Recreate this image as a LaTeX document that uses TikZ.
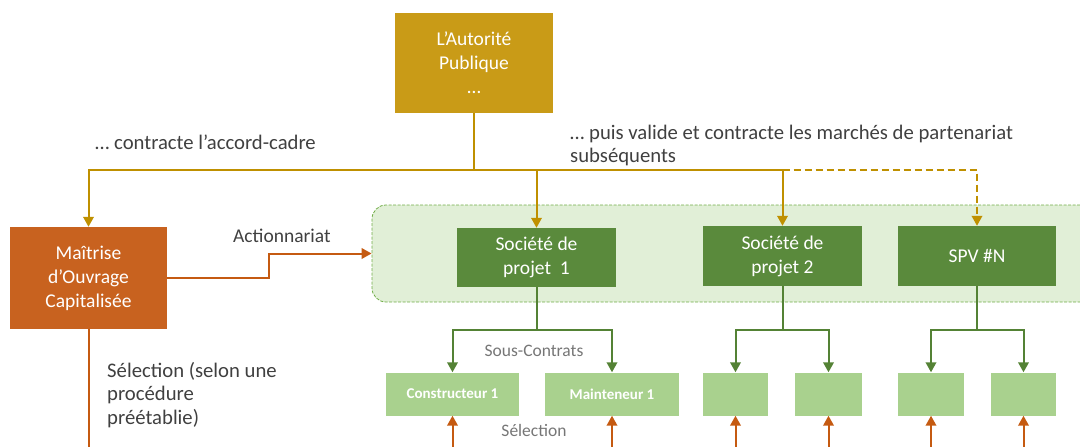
\documentclass[tikz,border=0pt]{standalone}
\usepackage{fontspec}
\setmainfont{Carlito}
\usetikzlibrary{arrows.meta}

\definecolor{authfill}{HTML}{C99B17}
\definecolor{goldline}{HTML}{BF9000}
\definecolor{mocfill}{HTML}{C8621F}
\definecolor{orangeline}{HTML}{C55A11}
\definecolor{spvfill}{HTML}{5A8A3C}
\definecolor{greenline}{HTML}{548235}
\definecolor{subfill}{HTML}{A9D18E}
\definecolor{poolfill}{HTML}{E1EFD7}
\definecolor{poolborder}{HTML}{70AD47}
\definecolor{labeltext}{HTML}{404040}
\definecolor{softtext}{HTML}{767676}

\newcommand\fs[2]{\fontsize{#1}{#2}\selectfont}

\tikzset{
  boxbase/.style={rectangle, inner sep=0pt, align=center, text=white, font=\fs{19.5}{24}},
  authbox/.style={boxbase, fill=authfill},
  mocbox/.style={boxbase, fill=mocfill},
  spvbox/.style={boxbase, fill=spvfill},
  subbox/.style={rectangle, fill=subfill, inner sep=0pt, text=white,
    font=\fs{15}{18}\bfseries, minimum height=43},
  pool/.style={draw=poolborder, dash pattern=on 3pt off 1.5pt, fill=poolfill,
    rounded corners=14pt, line width=0.8pt},
  wire/.style={line width=2pt},
  link/.style={wire, -{Triangle[length=10pt,width=10.5pt]}},
  goldwire/.style={wire, draw=goldline},
  goldlink/.style={link, draw=goldline},
  orangewire/.style={wire, draw=orangeline},
  orangelink/.style={link, draw=orangeline},
  greenwire/.style={wire, draw=greenline},
  greenlink/.style={link, draw=greenline},
  maybe/.style={dash pattern=on 7pt off 4pt},
  caption/.style={inner sep=0pt, text=labeltext, font=\fs{20.7}{24}},
  softcaption/.style={inner sep=0pt, text=softtext, font=\fs{17.5}{21}},
}

\begin{document}
\begin{tikzpicture}[x=1pt,y=-1pt]
\useasboundingbox (0,0) rectangle (1080,447);
\clip (0,0) rectangle (1080,447);

% public authority and the capitalised project owner
\node[authbox, minimum width=158, minimum height=100] (auth) at (474,63) {L’Autorité\\Publique\\…};
\node[mocbox, minimum width=157, minimum height=102] (moc) at (88.5,278) {Maîtrise\\d’Ouvrage\\Capitalisée};

% pool of project companies
\node[pool, minimum width=740, minimum height=97] (pool) at (742,253.5) {};
\node[spvbox, minimum width=159, minimum height=59] (s1) at (536.5,257.5) {Société de\\projet~ 1};
\node[spvbox, minimum width=159, minimum height=60] (s2) at (782.5,256) {Société de\\projet 2};
\node[spvbox, minimum width=158, minimum height=60] (spv) at (977,256) {SPV \#N};

% subcontractors
\node[subbox, minimum width=133] (c1) at (452.5,394) {Constructeur 1};
\node[subbox, minimum width=134] (m1) at (612,394) {Mainteneur 1};
\node[subbox, minimum width=65] (b3) at (735.5,394) {};
\node[subbox, minimum width=67] (b4) at (828.5,394) {};
\node[subbox, minimum width=66] (b5) at (931,394) {};
\node[subbox, minimum width=65] (b6) at (1023.5,394) {};

% contracting lines from the authority
\coordinate (gj) at (474,170);
\draw[goldwire] (auth.south) -- (gj);
\draw[goldlink] (gj) -| (moc.north);
\draw[goldlink] (gj) -| (s1.north);
\draw[goldlink] (gj) -| (s2.north);
\draw[goldlink, maybe] (gj -| s2.north) -| (spv.north);

% shareholding and selection
\coordinate (abend) at (269,0);
\draw[orangelink] (moc.east) -- (moc.east -| abend) |- (pool.west);
\coordinate (mocfoot) at (88.5,452);
\draw[orangewire] (moc.south) -- (mocfoot);
\foreach \b in {c1,m1,b3,b4,b5,b6}
  \draw[orangelink] (\b.south |- mocfoot) -- (\b.south);

% subcontracts
\coordinate (hl) at (0,330);
\foreach \s/\l/\r in {s1/c1/m1, s2/b3/b4, spv/b5/b6} {
  \draw[greenwire] (\s.south) -- (\s.south |- hl);
  \draw[greenlink] (\s.south |- hl) -| (\l.north);
  \draw[greenlink] (\s.south |- hl) -| (\r.north);
}

% captions
\node[caption, anchor=base west] (tframe) at (95,149.5) {… contracte l’accord-cadre};
\node[caption, anchor=base west] (tsub1) at (570,139) {… puis valide et contracte les marchés de partenariat};
\node[caption, anchor=base west] (tsub2) at (570,162.5) {subséquents};
\node[caption, anchor=base west, font=\fs{19.5}{23}] (tshare) at (233,242) {Actionnariat};
\node[caption, anchor=base west] (tsel1) at (107,377) {Sélection (selon une};
\node[caption, anchor=base west] (tsel2) at (107,400.5) {procédure};
\node[caption, anchor=base west] (tsel3) at (107,424) {préétablie)};
\node[softcaption, anchor=base] (tsc) at (534,356) {Sous-Contrats};
\node[softcaption, anchor=base] (tsel) at (534,436) {Sélection};
\end{tikzpicture}
\end{document}
